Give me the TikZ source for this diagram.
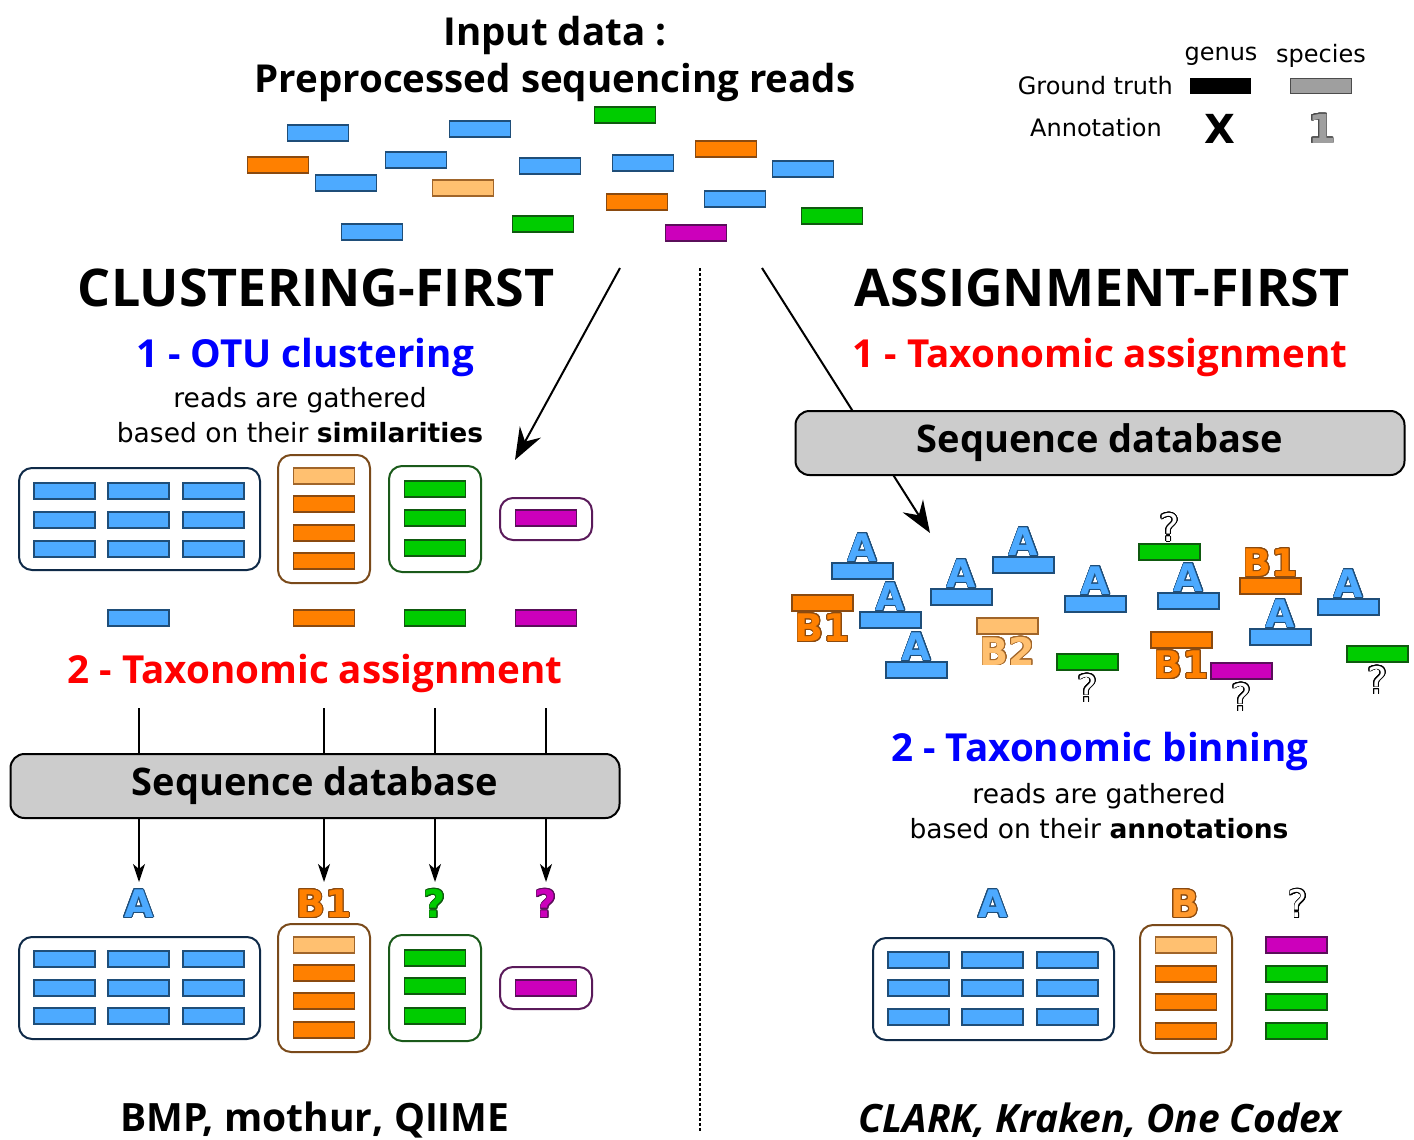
\documentclass[tikz,border=0pt]{standalone}
\usepackage{fontspec}
\setmainfont{DejaVu Sans}
\newfontfamily\osans{Open Sans}
\newfontfamily\dvs{DejaVu Sans}
\usepackage{contour}
\contourlength{0.8pt}
\contournumber{24}
\usetikzlibrary{arrows.meta}
\newcommand\fsz[1]{\fontsize{#1}{#1}\selectfont}
\definecolor{cblue}{HTML}{4DAAFF}
\definecolor{cblueD}{HTML}{1F4E79}
\definecolor{corange}{HTML}{FF8000}
\definecolor{corangeD}{HTML}{8A4A10}
\definecolor{clight}{HTML}{FFC070}
\definecolor{clightD}{HTML}{A0652A}
\definecolor{cgreen}{HTML}{00CC00}
\definecolor{cgreenD}{HTML}{0F5A0F}
\definecolor{cmag}{HTML}{CC00BB}
\definecolor{cmagD}{HTML}{5A0F5A}
\definecolor{gblue}{HTML}{0F2A48}
\definecolor{gorange}{HTML}{7A4A1A}
\definecolor{ggreen}{HTML}{1A5A1A}
\definecolor{gmag}{HTML}{5A1A5A}
\definecolor{dbgray}{HTML}{CCCCCC}
\definecolor{tred}{HTML}{FF0000}
\definecolor{tblue}{HTML}{0000FF}
\tikzset{
  read/.style={minimum width=61pt, minimum height=16pt, inner sep=0pt, line width=1.2pt},
  rb/.style={read, fill=cblue, draw=cblueD},
  ro/.style={read, fill=corange, draw=corangeD},
  rl/.style={read, fill=clight, draw=clightD},
  rg/.style={read, fill=cgreen, draw=cgreenD},
  rm/.style={read, fill=cmag, draw=cmagD},
  grp/.style={draw=#1, fill=white, rounded corners=13pt, line width=2pt, inner sep=0pt},
  db/.style={draw=black, fill=dbgray, rounded corners=14pt, line width=2pt, minimum width=609pt, minimum height=64pt, inner sep=0pt, font=\osans\bfseries\fsz{38}},
  lab/.style={inner sep=0pt, font=\dvs\bfseries\fsz{38}},
  qlab/.style={inner sep=0pt, font=\dvs\fsz{38}},
  title/.style={inner sep=0pt, font=\osans\bfseries\fsz{52}},
  stephead/.style={inner sep=0pt, font=\osans\bfseries\fsz{38.6}},
  body/.style={inner sep=0pt, align=center, font=\dvs\fsz{26.5}},
  tool/.style={inner sep=0pt, font=\osans\bfseries\fsz{39}},
  bigarrow/.style={line width=2pt, -{Stealth[length=32pt, width=24pt, inset=11pt]}},
  smallarrow/.style={line width=1.5pt, -{Stealth[length=18pt, width=12pt, inset=5pt]}},
}
\newcommand\labA{\contour{cblueD}{\textcolor{cblue}{A}}}
\newcommand\labBone{\contour{corangeD}{\textcolor{corange}{B1}}}
\newcommand\labBtwo{\contour{clightD}{\textcolor{clight}{B2}}}
\newcommand\labQ{\contour{black}{\textcolor{white}{?}}}
\begin{document}
\begin{tikzpicture}[x=1pt,y=-1pt]
\useasboundingbox (0,0) rectangle (1414,1140);
% ---------- header ----------
\node[inner sep=0pt, align=center, font=\osans\bfseries\fsz{38.5}] (hdr) at (555,59)
  {Input data :\\[8pt]Preprocessed sequencing reads};
% legend
\node[inner sep=0pt, font=\dvs\fsz{24}] (lgenus) at (1221,56) {genus};
\node[inner sep=0pt, font=\dvs\fsz{24}] (lspecies) at (1321,56) {species};
\node[inner sep=0pt, anchor=east, font=\dvs\fsz{24}] (lgt) at (1173,86) {Ground truth};
\node[inner sep=0pt, anchor=east, font=\dvs\fsz{24}] (lann) at (1162,128) {Annotation};
\node[fill=black, draw=black, minimum width=60pt, minimum height=15pt, inner sep=0pt] (lblack) at (1220,86) {};
\node[fill=gray!75, draw=black!70, line width=1.2pt, minimum width=61pt, minimum height=15pt, inner sep=0pt] (lgray) at (1321,86) {};
\node[inner sep=0pt, font=\dvs\bfseries\fsz{40}] (lx) at (1220,129) {X};
\node[inner sep=0pt, font=\dvs\bfseries\fsz{40}] (lone) at (1322,129) {\contour{black!70}{\textcolor{gray!75}{1}}};
% input reads
\node[rb] (i1) at (318,133) {};
\node[rb] (i2) at (480,129) {};
\node[rg] (i3) at (625,115) {};
\node[ro] (i4) at (278,165) {};
\node[rb] (i5) at (416,160) {};
\node[rb] (i6) at (346,183) {};
\node[rl] (i7) at (463,188) {};
\node[rb] (i8) at (550,166) {};
\node[rb] (i9) at (643,163) {};
\node[ro] (i10) at (726,149) {};
\node[rb] (i11) at (803,169) {};
\node[ro] (i12) at (637,202) {};
\node[rb] (i13) at (735,199) {};
\node[rg] (i14) at (543,224) {};
\node[rm] (i15) at (696,233) {};
\node[rg] (i16) at (832,216) {};
\node[rb] (i17) at (372,232) {};
% separator
\coordinate (sepT) at (700,268);
\coordinate (sepB) at (700,1132);
\draw[line width=1.5pt, dash pattern=on 3pt off 2pt] (sepT) -- (sepB);
% titles
\node[title] (tcl) at (316,288) {CLUSTERING-FIRST};
\node[title] (tas) at (1102,288) {ASSIGNMENT-FIRST};
% ---------- left: clustering-first ----------
\node[stephead, text=tblue] (s1l) at (305,357) {1 - OTU clustering};
\node[body] (b1l) at (300,415) {reads are gathered\\[8pt]based on their \textbf{similarities}};
\coordinate (aLs) at (620,268);
\coordinate (aLe) at (515,460);
\draw[bigarrow] (aLs) -- (aLe);
% clusters (top)
\node[grp=gblue, minimum width=241pt, minimum height=102pt] (gb1) at (139.5,519) {};
\node[grp=gorange, minimum width=92pt, minimum height=128pt] (go1) at (324,519) {};
\node[grp=ggreen, minimum width=92pt, minimum height=106pt] (gg1) at (435,519) {};
\node[grp=gmag, minimum width=92pt, minimum height=42pt] (gm1) at (546,519) {};
\foreach \cx in {64.5,138.5,213.5}{
  \foreach \cy in {491,520,549}{\node[rb] at (\cx,\cy) {};}}
\node[rl] (c1) at (324,476) {};
\node[ro] (c2) at (324,504) {};
\node[ro] (c3) at (324,533) {};
\node[ro] (c4) at (324,561) {};
\node[rg] (c5) at (435,489) {};
\node[rg] (c6) at (435,518) {};
\node[rg] (c7) at (435,548) {};
\node[rm] (c8) at (546,518) {};
% representatives
\node[rb] (p1) at (138.5,618) {};
\node[ro] (p2) at (324,618) {};
\node[rg] (p3) at (435,618) {};
\node[rm] (p4) at (546,618) {};
\node[stephead, text=tred] (s2l) at (315,673) {2 - Taxonomic assignment};
% database left
\node[db] (dbl) at (315,786) {Sequence database};
\foreach \n/\xx in {1/139,2/324,3/435,4/546}{
  \coordinate (lt\n) at (\xx,708);
  \coordinate (le\n) at (\xx,882);
  \draw[line width=1.5pt] (lt\n) -- (lt\n |- dbl.north);
  \draw[smallarrow] (lt\n |- dbl.south) -- (le\n);
}
% labels
\node[lab] (la1) at (139,904) {\labA};
\node[lab] (la2) at (324,904) {\labBone};
\node[lab] (la3) at (435,904) {\contour{cgreenD}{\textcolor{cgreen}{?}}};
\node[lab] (la4) at (546,904) {\contour{cmagD}{\textcolor{cmag}{?}}};
% clusters (bottom)
\node[grp=gblue, minimum width=241pt, minimum height=102pt] (gb2) at (139.5,988) {};
\node[grp=gorange, minimum width=92pt, minimum height=128pt] (go2) at (324,988) {};
\node[grp=ggreen, minimum width=92pt, minimum height=106pt] (gg2) at (435,988) {};
\node[grp=gmag, minimum width=92pt, minimum height=42pt] (gm2) at (546,988) {};
\foreach \cx in {64.5,138.5,213.5}{
  \foreach \cy in {959,988,1016}{\node[rb] at (\cx,\cy) {};}}
\node[rl] (d1) at (324,945) {};
\node[ro] (d2) at (324,973) {};
\node[ro] (d3) at (324,1001) {};
\node[ro] (d4) at (324,1030) {};
\node[rg] (d5) at (435,958) {};
\node[rg] (d6) at (435,986) {};
\node[rg] (d7) at (435,1016) {};
\node[rm] (d8) at (546,988) {};
\node[tool] (tl) at (315,1120) {BMP, mothur, QIIME};
% ---------- right: assignment-first ----------
\node[stephead, text=tred] (s1r) at (1100,357) {1 - Taxonomic assignment};
\coordinate (aRs) at (762,268);
\coordinate (aRe) at (930,533);
\draw[bigarrow] (aRs) -- (aRe);
\node[db] (dbr) at (1100,443) {Sequence database};
% annotated reads
\node[rb] (r1) at (862.5,571) {};
\node[rb] (r2) at (890.5,620) {};
\node[rb] (r3) at (916.5,670) {};
\node[ro] (r4) at (822.5,603) {};
\node[rb] (r5) at (961.5,597) {};
\node[rb] (r6) at (1023.5,565) {};
\node[rl] (r7) at (1007.5,626) {};
\node[rb] (r8) at (1095.5,604) {};
\node[rg] (r9) at (1087.5,662) {};
\node[rg] (r10) at (1169.5,552) {};
\node[rb] (r11) at (1188.5,601) {};
\node[ro] (r12) at (1181.5,640) {};
\node[ro] (r13) at (1270.5,586) {};
\node[rb] (r14) at (1280.5,637) {};
\node[rm] (r15) at (1241.5,671) {};
\node[rb] (r16) at (1348.5,607) {};
\node[rg] (r17) at (1377.5,654) {};
\foreach \r in {r1,r2,r3,r5,r6,r8,r11,r14,r16}{
  \node[lab, anchor=base] at ([yshift=1pt]\r.north) {\labA};}
\node[lab, anchor=north] (lr4) at ([yshift=-2pt]r4.south) {\labBone};
\node[lab, anchor=north] (lr7) at ([yshift=-2pt]r7.south) {\labBtwo};
\node[lab, anchor=north] (lr12) at ([yshift=-2pt]r12.south) {\labBone};
\node[lab, anchor=base] (lr13) at ([yshift=1pt]r13.north) {\labBone};
\node[qlab, anchor=north] (lr9) at ([yshift=-3pt]r9.south) {\labQ};
\node[qlab, anchor=north] (lr15) at ([yshift=-3pt]r15.south) {\labQ};
\node[qlab, anchor=north] (lr17) at ([yshift=-3pt]r17.south) {\labQ};
\node[qlab, anchor=base] (lr10) at ([yshift=2pt]r10.north) {\labQ};
% binning
\node[stephead, text=tblue] (s2r) at (1100,751) {2 - Taxonomic binning};
\node[body] (b2r) at (1099,811) {reads are gathered\\[8pt]based on their \textbf{annotations}};
\node[lab] (bA) at (993,904) {\labA};
\node[lab] (bB) at (1185,904) {\contour{corangeD}{\textcolor{orange!60!clight}{B}}};
\node[qlab] (bQ) at (1298,904) {\labQ};
\node[grp=gblue, minimum width=241pt, minimum height=102pt] (gb3) at (993.5,989) {};
\node[grp=gorange, minimum width=92pt, minimum height=128pt] (go3) at (1186,989) {};
\foreach \cx in {918.5,992.5,1067.5}{
  \foreach \cy in {960,988,1017}{\node[rb] at (\cx,\cy) {};}}
\node[rl] (e1) at (1186,945) {};
\node[ro] (e2) at (1186,974) {};
\node[ro] (e3) at (1186,1002) {};
\node[ro] (e4) at (1186,1031) {};
\node[rm] (e5) at (1296.5,945) {};
\node[rg] (e6) at (1296.5,974) {};
\node[rg] (e7) at (1296.5,1002) {};
\node[rg] (e8) at (1296.5,1031) {};
\node[tool, font=\osans\bfseries\itshape\fsz{39}] (tr) at (1100,1120) {CLARK, Kraken, One Codex};
\end{tikzpicture}
\end{document}
